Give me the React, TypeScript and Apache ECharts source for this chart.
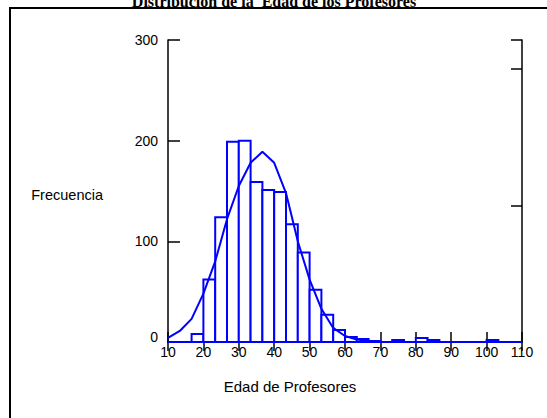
import React, { useEffect, useRef } from "react";
import * as echarts from "echarts";

// Histogram: 30 bins of width 10/3 from 10 to 110
const binStart = 10;
const binCount = 30;
const binCounts = [0, 0, 8, 62, 124, 199, 200, 159, 151, 149, 117, 89, 52, 27, 12, 5, 3, 1, 0, 2, 0, 4, 2, 0, 0, 0, 0, 2, 0, 0];
// Fitted curve values at the bin edges (31 points)
const curveValues = [4, 11, 23, 48, 80, 122, 155, 178, 189, 178, 148, 100, 62, 33, 14, 6, 2.5, 1, 0.3, 0, 0, 0, 0, 0, 0, 0, 0, 0, 0, 0, 0];
const xTicks = [10, 20, 30, 40, 50, 60, 70, 80, 90, 100, 110];
const yTicks = [0, 100, 200, 300];

const titleText = "Distribución de la  Edad de los Profesores";
const xName = "Edad de Profesores";
const yName = "Frecuencia";

export default function App() {
  const ref = useRef<HTMLDivElement>(null);
  useEffect(() => {
    if (!ref.current) return;
    const chart = echarts.init(ref.current, null, { renderer: "svg" });
    const binW = (xTicks[xTicks.length - 1] - binStart) / binCount;
    const bars = binCounts.map((v, i) => [binStart + i * binW, binStart + (i + 1) * binW, v]);
    const curve = curveValues.map((v, i) => [binStart + i * binW, v]);
    const sans = "'Liberation Sans', Arial, sans-serif";
    chart.setOption({
      animation: false,
      backgroundColor: "#fff",
      grid: { left: 168, right: 25, top: 40, bottom: 76, containLabel: false },
      xAxis: [
        {
          type: "value",
          min: xTicks[0],
          max: xTicks[xTicks.length - 1],
          interval: 10,
          position: "bottom",
          axisLine: { show: true, onZero: false, lineStyle: { color: "#0000ff", width: 2 } },
          axisTick: { show: true, inside: true, length: 10, lineStyle: { color: "#000", width: 1.5 } },
          axisLabel: { color: "#000", fontSize: 14, fontFamily: sans, margin: 3 },
          splitLine: { show: false },
        },
        {
          type: "value",
          min: xTicks[0],
          max: xTicks[xTicks.length - 1],
          interval: 10,
          position: "top",
          axisLine: { show: true, lineStyle: { color: "#000", width: 1.5 } },
          axisTick: { show: true, inside: true, length: 9, lineStyle: { color: "#000", width: 1.5 } },
          axisLabel: { show: false },
          splitLine: { show: false },
        },
      ],
      yAxis: [
        {
          type: "value",
          min: yTicks[0],
          max: yTicks[yTicks.length - 1],
          interval: 100,
          position: "left",
          axisLine: { show: true, lineStyle: { color: "#000", width: 1.5 } },
          axisTick: { show: true, inside: true, length: 12, lineStyle: { color: "#000", width: 1.5 } },
          axisLabel: {
            color: "#000",
            fontSize: 14,
            fontFamily: sans,
            margin: 10,
            formatter: (v: number) => (v === 0 ? "{z|0}" : String(v)),
            rich: { z: { fontSize: 14, fontFamily: sans, color: "#000", padding: [0, 0, 10, 0] } },
          },
          splitLine: { show: false },
        },
        {
          type: "value",
          min: 0,
          max: 2.21,
          interval: 1,
          position: "right",
          axisLine: { show: true, lineStyle: { color: "#000", width: 1.5 } },
          axisTick: { show: true, inside: true, length: 11, lineStyle: { color: "#000", width: 1.5 } },
          axisLabel: { show: false },
          splitLine: { show: false },
        },
      ],
      graphic: [
        {
          type: "rect",
          shape: { x: 10, y: 8, width: 560, height: 420 },
          style: { fill: "none", stroke: "#000", lineWidth: 2 },
          z: 0,
        },
        {
          type: "text",
          x: 274,
          y: 1.5,
          style: {
            text: titleText,
            fontSize: 16,
            fontWeight: "bold",
            fontFamily: "'Liberation Serif', 'Times New Roman', serif",
            fill: "#000",
            align: "center",
            verticalAlign: "middle",
          },
        },
        {
          type: "text",
          x: 103,
          y: 195,
          style: { text: yName, fontSize: 14.5, fontFamily: sans, fill: "#000", align: "right", verticalAlign: "middle" },
        },
        {
          type: "text",
          x: 290,
          y: 386,
          style: { text: xName, fontSize: 15, fontFamily: sans, fill: "#000", align: "center", verticalAlign: "middle" },
        },
      ],
      series: [
        {
          type: "custom",
          xAxisIndex: 0,
          yAxisIndex: 0,
          data: bars,
          z: 2,
          renderItem: (params: any, api: any) => {
            const p0 = api.coord([api.value(0), api.value(2)]);
            const p1 = api.coord([api.value(1), 0]);
            return {
              type: "rect",
              shape: { x: p0[0], y: p0[1], width: p1[0] - p0[0], height: p1[1] - p0[1] },
              style: { fill: "#fff", stroke: "#0000ff", lineWidth: 2 },
            };
          },
        },
        {
          type: "line",
          xAxisIndex: 0,
          yAxisIndex: 0,
          data: curve,
          z: 3,
          showSymbol: false,
          symbol: "none",
          smooth: false,
          lineStyle: { color: "#0000ff", width: 2 },
        },
      ],
    });
    return () => chart.dispose();
  }, []);
  return <div ref={ref} style={{ width: 547, height: 418, position: "absolute", left: 0, top: 0 }} />;
}
